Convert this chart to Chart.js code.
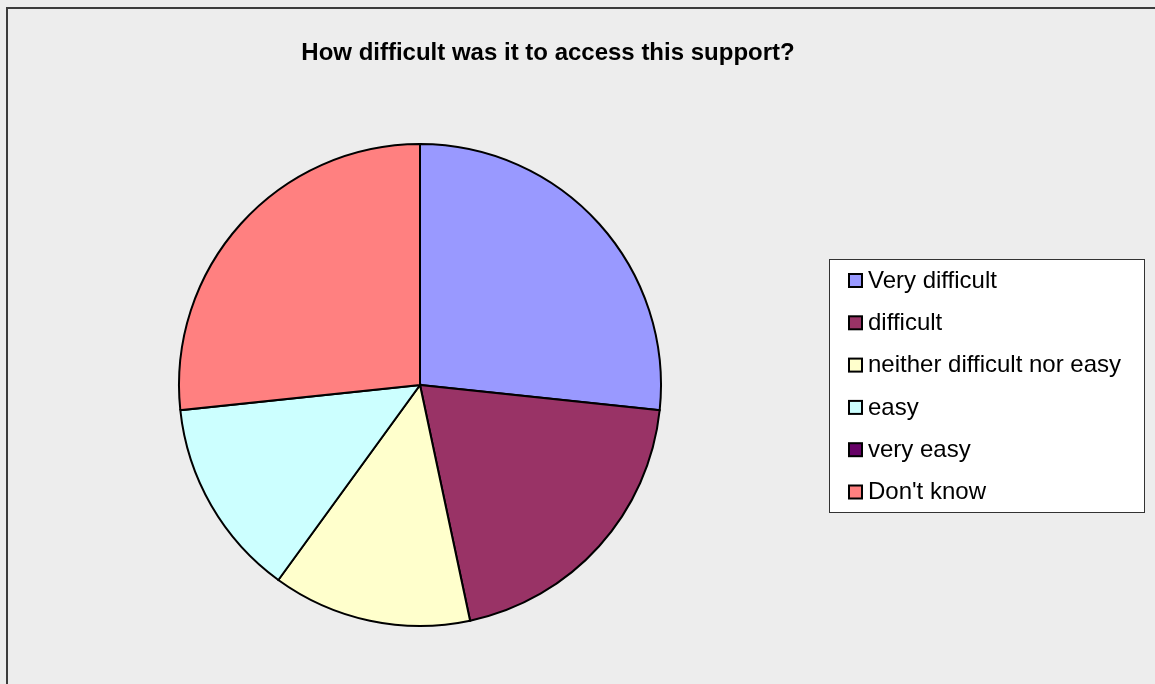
<!DOCTYPE html>
<html>
<head>
<meta charset="utf-8">
<script src="https://cdn.jsdelivr.net/npm/chart.js@4/dist/chart.umd.min.js"></script>
<style>
  html, body { margin: 0; padding: 0; background: #ededed; }
  #wrap { width: 1155px; height: 684px; }
</style>
</head>
<body>
<div id="wrap"><canvas id="myChart" width="1155" height="684"></canvas></div>
<script>
// Survey answers
const titleText = 'How difficult was it to access this support?';
const categories = ['Very difficult', 'difficult', 'neither difficult nor easy', 'easy', 'very easy', "Don't know"];
const responses = [4, 3, 2, 2, 0, 4];
const sliceColors = ['#9999ff', '#993366', '#ffffcc', '#ccffff', '#660066', '#ff8080'];

// Background, frame, title and boxed legend drawn around the pie
const framePlugin = {
    id: 'frame',
    beforeDraw(chart) {
        const ctx = chart.ctx;
        ctx.save();
        ctx.fillStyle = '#ededed';
        ctx.fillRect(0, 0, chart.width, chart.height);
        ctx.strokeStyle = '#3c3c3c';
        ctx.lineWidth = 2;
        ctx.strokeRect(7, 8, chart.width + 20, chart.height + 20);
        ctx.restore();
    },
    afterDraw(chart) {
        const ctx = chart.ctx;
        ctx.save();
        ctx.fillStyle = '#000';
        ctx.font = 'bold 24px "Liberation Sans", Arial, sans-serif';
        ctx.textAlign = 'center';
        ctx.textBaseline = 'middle';
        ctx.fillText(titleText, 548, 53);

        // legend box
        ctx.fillStyle = '#fff';
        ctx.fillRect(829, 259, 316, 253);
        ctx.strokeStyle = '#333';
        ctx.lineWidth = 1;
        ctx.strokeRect(829.5, 259.5, 315, 253);

        ctx.font = '24px "Liberation Sans", Arial, sans-serif';
        ctx.textAlign = 'left';
        const ds = chart.data.datasets[0];
        chart.data.labels.forEach(function(label, i) {
            const y = 280 + i * 42.3;
            ctx.fillStyle = ds.backgroundColor[i];
            ctx.fillRect(849, y - 6, 13, 13);
            ctx.strokeStyle = '#000';
            ctx.lineWidth = 2;
            ctx.strokeRect(849, y - 6, 13, 13);
            ctx.fillStyle = '#000';
            ctx.fillText(label, 868, y + 1);
        });
        ctx.restore();
    }
};

const ctx = document.getElementById('myChart').getContext('2d');
new Chart(ctx, {
    type: 'pie',
    data: {
        labels: categories,
        datasets: [{
            data: responses,
            backgroundColor: sliceColors,
            borderColor: '#000',
            borderWidth: 2,
            borderJoinStyle: 'miter'
        }]
    },
    options: {
        responsive: false,
        animation: false,
        radius: 241,
        layout: {
            padding: { left: 179, right: 494, top: 144, bottom: 58 }
        },
        plugins: {
            legend: { display: false },
            tooltip: { enabled: false }
        }
    },
    plugins: [framePlugin]
});
</script>
</body>
</html>
